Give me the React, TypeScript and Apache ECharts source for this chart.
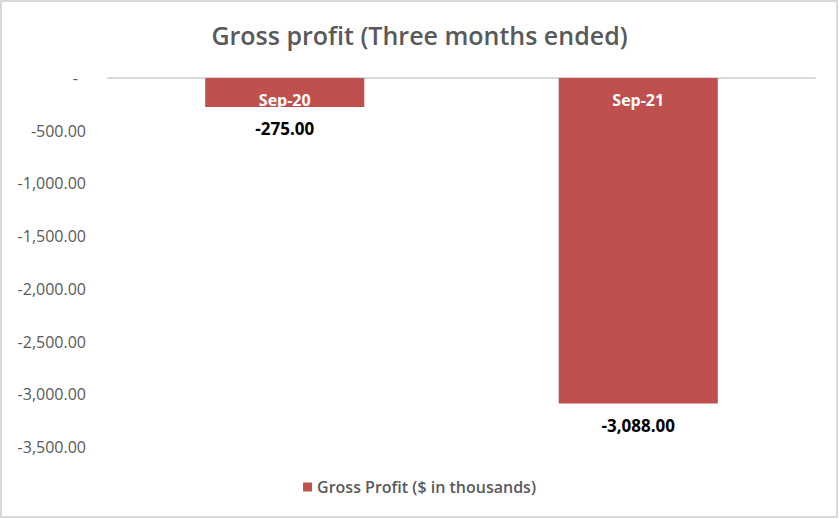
import React, { useEffect, useRef } from "react";
import * as echarts from "echarts";

const categories = ["Sep-20", "Sep-21"];
const grossProfit = [-275, -3088];
const categoryLabelAnchor = [0, 0];
const seriesName = "Gross Profit ($ in thousands)";
const titleText = "Gross profit (Three months ended)";

const fmt = (v: number) =>
  v.toLocaleString("en-US", { minimumFractionDigits: 2, maximumFractionDigits: 2 });

export default function App() {
  const ref = useRef<HTMLDivElement>(null);
  useEffect(() => {
    if (!ref.current) return;
    const chart = echarts.init(ref.current, null, { renderer: "svg" });
    const font = "'Open Sans', 'Noto Sans', sans-serif";
    chart.setOption({
      animation: false,
      backgroundColor: "#ffffff",
      textStyle: { fontFamily: font },
      title: {
        text: titleText,
        left: "center",
        top: 17,
        textStyle: { fontFamily: font, fontSize: 25, fontWeight: 600, color: "#595959" },
      },
      legend: {
        bottom: 19,
        left: "center",
        itemWidth: 9,
        itemHeight: 9,
        icon: "rect",
        itemGap: 8,
        textStyle: { fontFamily: font, fontSize: 16, fontWeight: 600, color: "#595959" },
        data: [seriesName],
      },
      graphic: [
        {
          type: "rect",
          shape: { x: 1, y: 1, width: 836, height: 516 },
          style: { fill: "none", stroke: "#d9d9d9", lineWidth: 2 },
          silent: true,
          z: 100,
        },
      ],
      grid: { left: 108, right: 24, top: 78, bottom: 72, containLabel: false },
      xAxis: {
        type: "category",
        data: categories,
        position: "bottom",
        axisLine: { onZero: true, lineStyle: { color: "#d9d9d9", width: 2 } },
        axisTick: { show: false },
        axisLabel: { show: false },
      },
      yAxis: {
        type: "value",
        min: -3500,
        max: 0,
        interval: 500,
        axisLine: { show: false },
        axisTick: { show: false },
        splitLine: { show: false },
        axisLabel: {
          margin: 22,
          fontFamily: font,
          fontSize: 16,
          fontWeight: 500,
          color: "#595959",
          formatter: (v: number) => (v === 0 ? "{z|-}" : fmt(v)),
          rich: {
            z: { fontSize: 16, fontWeight: 500, color: "#595959", padding: [0, 8, 0, 0], fontFamily: font },
          },
        },
      },
      series: [
        {
          name: seriesName,
          type: "bar",
          data: grossProfit,
          barWidth: "45%",
          itemStyle: { color: "#c0504d" },
          label: {
            show: true,
            position: "bottom",
            distance: 13,
            fontFamily: font,
            fontSize: 17,
            fontWeight: 700,
            color: "#000000",
            formatter: (p: any) => fmt(p.value),
          },
        },
        {
          name: "categoryLabels",
          type: "scatter",
          data: categoryLabelAnchor,
          symbolSize: 0,
          silent: true,
          z: 10,
          itemStyle: { opacity: 1 },
          label: {
            show: true,
            position: "bottom",
            distance: 14,
            fontFamily: font,
            fontSize: 16,
            fontWeight: 700,
            color: "#ffffff",
            opacity: 1,
            formatter: (p: any) => p.name,
          },
        },
      ],
    });
    return () => chart.dispose();
  }, []);
  return (
    <div
      ref={ref}
      style={{ position: "fixed", left: 0, top: 0, width: 839, height: 519 }}
    />
  );
}
